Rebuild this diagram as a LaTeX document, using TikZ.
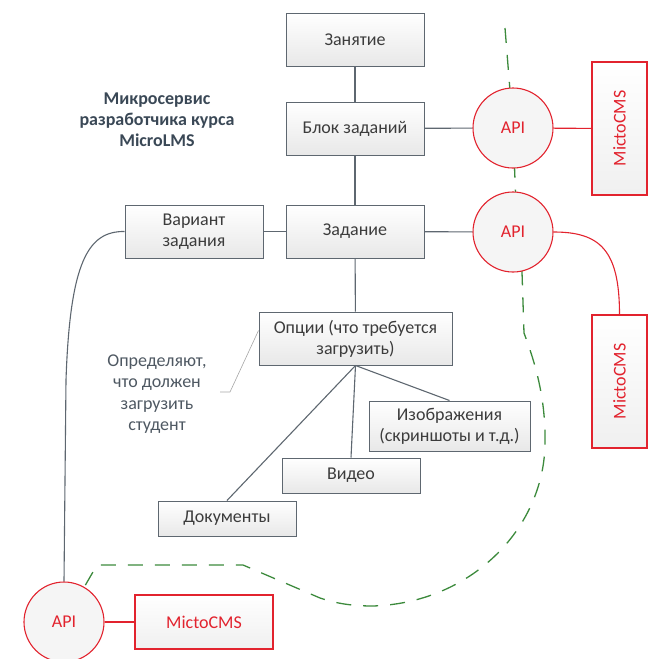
\documentclass[tikz,border=0pt]{standalone}
\usepackage{fontspec}
\setmainfont{Carlito}
\usetikzlibrary{backgrounds}

\definecolor{boxline}{HTML}{5E6770}
\definecolor{boxtext}{HTML}{3C3C3C}
\definecolor{apired}{HTML}{E2232E}
\definecolor{dashgreen}{HTML}{3C8A3C}
\definecolor{titlecol}{HTML}{3A4856}
\definecolor{notecol}{HTML}{4E5862}

\tikzset{
  txt/.style={font=\fontsize{18}{21}\selectfont},
  box/.style={txt, draw=boxline, line width=1pt, top color=white, bottom color=black!9,
    text=boxtext, align=center, inner sep=0pt},
  api/.style={txt, circle, draw=apired, line width=1.1pt, fill=black!4, text=apired,
    minimum size=80pt, inner sep=0pt},
  cms/.style={txt, draw=apired, line width=1.1pt, top color=white, bottom color=black!6,
    text=apired, inner sep=0pt},
  link/.style={draw=boxline, line width=1.1pt},
  redlink/.style={draw=apired, line width=1.1pt},
  notelink/.style={draw=black!35, line width=0.6pt},
  greendash/.style={draw=dashgreen, line width=1.3pt, dash pattern=on 15pt off 12pt},
}

\begin{document}
\begin{tikzpicture}[x=1pt,y=-1pt]
\useasboundingbox (0,0) rectangle (653,659);

% course structure
\node[box, minimum width=138pt, minimum height=53pt] (lesson)  at (355,39.5)  {Занятие};
\node[box, minimum width=138pt, minimum height=53pt] (block)   at (355,128.5) {Блок заданий};
\node[box, minimum width=138pt, minimum height=53pt] (task)    at (355,231.5) {Задание};
\node[box, minimum width=138pt, minimum height=53pt] (variant) at (194,231.5) {Вариант\\задания};
\node[box, minimum width=193pt, minimum height=53pt] (options) at (355.5,338.5) {Опции (что требуется\\загрузить)};
\node[box, minimum width=161pt, minimum height=50pt] (images)  at (449.5,426) {Изображения\\(скриншоты и т.д.)};
\node[box, minimum width=138pt, minimum height=35pt] (video)   at (351,475.5) {Видео};
\node[box, minimum width=138pt, minimum height=35pt] (docs)    at (227,518.5) {Документы};

% service title and note
\node[txt, font=\fontsize{18}{20.8}\selectfont\bfseries, text=titlecol, align=center] (title) at (157,120)
  {Микросервис\\разработчика курса\\MicroLMS};
\node[txt, font=\fontsize{18}{21.3}\selectfont, text=notecol, align=center] (note) at (157,394)
  {Определяют,\\что должен\\загрузить\\студент};

% API endpoints and CMS
\node[api] (apiA) at (513,128) {API};
\node[api] (apiB) at (513,232) {API};
\node[api] (apiC) at (64,622) {API};
\node[cms, minimum width=55pt, minimum height=133pt] (cmsA) at (619.5,128.5) {\rotatebox{90}{MictoCMS}};
\node[cms, minimum width=55pt, minimum height=133pt] (cmsB) at (619.5,381.5) {\rotatebox{90}{MictoCMS}};
\node[cms, minimum width=138pt, minimum height=54pt] (cmsC) at (204,622) {MictoCMS};

% hierarchy links
\draw[link] (lesson) -- (block);
\draw[link] (block) -- (task);
\draw[link] (task) -- (options);
\draw[link] (variant) -- (task);
\draw[link] (block) -- (apiA);
\draw[link] (task) -- (apiB);
\draw[link] (options.south) -- (docs.north);
\draw[link] (options.south) -- (video.north);
\draw[link] (options.south) -- (images.north);
\draw[link] (variant.west) .. controls (88,231) and (70,262) .. (66,380) -- (apiC.north);

% CMS links
\draw[redlink] (apiA) -- (cmsA);
\draw[redlink] (apiB.east) .. controls (600,232) and (619.5,250) .. (cmsB.north);
\draw[redlink] (apiC) -- (cmsC);

% note pointer
\coordinate (notebend) at (230,392);
\coordinate (noteend) at (220,392);
\draw[notelink] ([yshift=8pt]options.west) -- (notebend) -- (noteend);

% service boundary
\coordinate (greentop) at (505,28);
\begin{scope}[on background layer]
\draw[greendash] (greentop) -- (513,128) -- (517,232) -- (522,272) -- (524,333)
  .. controls (536,365) and (546,400) .. (545,445)
  .. controls (543,530) and (470,603) .. (373,606)
  .. controls (350,606) and (335,603) .. (320,598)
  -- (243,565) -- (97,565) -- (apiC);
\end{scope}
\end{tikzpicture}
\end{document}
